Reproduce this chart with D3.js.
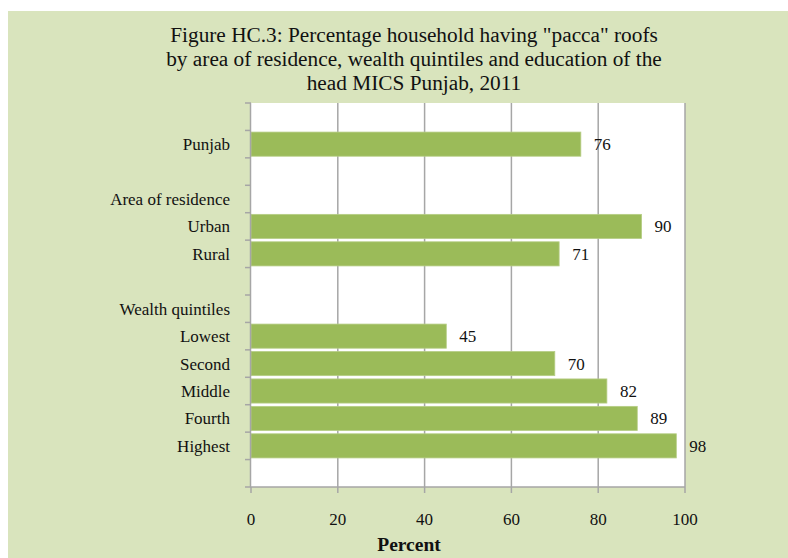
<!DOCTYPE html>
<html>
<head>
<meta charset="utf-8">
<script src="https://cdn.jsdelivr.net/npm/d3@7/dist/d3.min.js"></script>
<style>
  html, body { margin: 0; padding: 0; background: #fff; }
  svg { display: block; }
  text { font-family: "Liberation Serif", "DejaVu Serif", serif; fill: #111; }
</style>
</head>
<body>
<svg id="chart" width="788" height="558"></svg>
<script>
// Category rows, top to bottom (spacer rows and headings carry no bar)
const categories = ["s0", "Punjab", "s1", "Area of residence", "Urban", "Rural", "s2",
  "Wealth quintiles", "Lowest", "Second", "Middle", "Fourth", "Highest", "s3"];
const categoryLabels = ["", "Punjab", "", "Area of residence", "Urban", "Rural", "",
  "Wealth quintiles", "Lowest", "Second", "Middle", "Fourth", "Highest", ""];
// Percent of households with "pacca" roofs
const barCategories = ["Punjab", "Urban", "Rural", "Lowest", "Second", "Middle", "Fourth", "Highest"];
const barValues = [76, 90, 71, 45, 70, 82, 89, 98];
const xTicks = [0, 20, 40, 60, 80, 100];
const titleLines = [
  "Figure HC.3: Percentage household having \"pacca\" roofs",
  "by area of residence, wealth quintiles and education of the",
  "head MICS Punjab, 2011"
];

const svg = d3.select("#chart");

// Chart background panel
svg.append("rect").attr("x", 8).attr("y", 11).attr("width", 780).attr("height", 547)
  .attr("fill", "#d9e4bd");

const plot = { left: 251, right: 685, top: 103, bottom: 487 };

// Title
svg.append("g").selectAll("text").data(titleLines).join("text")
  .attr("x", 414).attr("y", (d, i) => 42 + i * 24)
  .attr("text-anchor", "middle").attr("font-size", 21.3)
  .text(d => d);

// Plot area
svg.append("rect").attr("x", plot.left).attr("y", plot.top)
  .attr("width", plot.right - plot.left).attr("height", plot.bottom - plot.top)
  .attr("fill", "#fff");

const x = d3.scaleLinear().domain([0, 100]).range([plot.left, plot.right]);
const y = d3.scaleBand().domain(categories).range([plot.top, plot.bottom]).paddingInner(0.12).paddingOuter(0.06);
const yBoundary = d3.scaleLinear().domain([0, categories.length]).range([plot.top, plot.bottom]);

// Vertical gridlines
svg.append("g").selectAll("line").data(xTicks.slice(1)).join("line")
  .attr("x1", d => x(d)).attr("x2", d => x(d))
  .attr("y1", plot.top).attr("y2", plot.bottom)
  .attr("stroke", "#a6a6a6").attr("stroke-width", 1.5);

// Bars
const data = barCategories.map((c, i) => ({ c, v: barValues[i] }));
svg.append("g").selectAll("rect").data(data).join("rect")
  .attr("x", x(0)).attr("y", d => y(d.c))
  .attr("width", d => x(d.v) - x(0)).attr("height", y.bandwidth())
  .attr("fill", "#9bbb59").attr("stroke", "#b6cd85").attr("stroke-width", 0.8);

// Value labels
svg.append("g").selectAll("text").data(data).join("text")
  .attr("x", d => x(d.v) + 13).attr("y", d => y(d.c) + y.bandwidth() / 2 + 6)
  .attr("font-size", 17)
  .text(d => d.v);

// Category axis with boundary ticks
const yAxis = svg.append("g");
yAxis.append("line").attr("x1", plot.left - 0.5).attr("x2", plot.left - 0.5)
  .attr("y1", plot.top).attr("y2", plot.bottom)
  .attr("stroke", "#a6a6a6").attr("stroke-width", 1.5);
yAxis.selectAll("line.tk").data(d3.range(categories.length + 1)).join("line")
  .attr("class", "tk")
  .attr("x1", plot.left - 6).attr("x2", plot.left)
  .attr("y1", d => yBoundary(d)).attr("y2", d => yBoundary(d))
  .attr("stroke", "#a6a6a6").attr("stroke-width", 1.5);
yAxis.selectAll("text").data(categories).join("text")
  .attr("x", 230).attr("y", d => yBoundary(categories.indexOf(d) + 0.5) + 6)
  .attr("text-anchor", "end").attr("font-size", 17)
  .text((d, i) => categoryLabels[i]);

// Value axis
const xAxis = svg.append("g");
xAxis.append("line").attr("x1", plot.left - 1).attr("x2", plot.right)
  .attr("y1", plot.bottom).attr("y2", plot.bottom)
  .attr("stroke", "#a6a6a6").attr("stroke-width", 1.5);
xAxis.selectAll("line.tk").data(xTicks).join("line")
  .attr("class", "tk")
  .attr("x1", d => x(d)).attr("x2", d => x(d))
  .attr("y1", plot.bottom).attr("y2", plot.bottom + 6)
  .attr("stroke", "#a6a6a6").attr("stroke-width", 1.5);
xAxis.selectAll("text").data(xTicks).join("text")
  .attr("x", d => x(d)).attr("y", 525)
  .attr("text-anchor", "middle").attr("font-size", 17)
  .text(d => d);

// Axis title
svg.append("text").attr("x", 409).attr("y", 551)
  .attr("text-anchor", "middle").attr("font-size", 19.5).attr("font-weight", "bold")
  .text("Percent");
</script>
</body>
</html>
